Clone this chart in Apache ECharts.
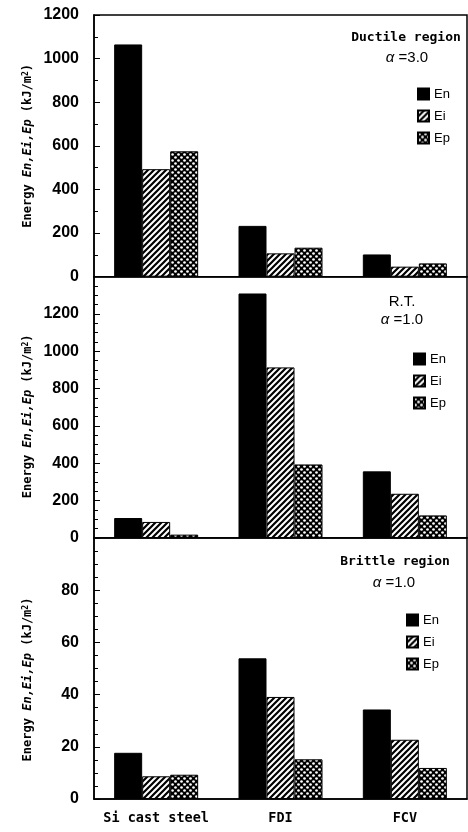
<!DOCTYPE html>
<html><head><meta charset="utf-8">
<script src="https://cdn.jsdelivr.net/npm/echarts@6/dist/echarts.min.js"></script>
<style>html,body{margin:0;padding:0;background:#fff}#c{width:468px;height:832px}</style>
</head><body><div id="c"></div>
<script>
const categories = ['Si cast steel', 'FDI', 'FCV'];
const seriesNames = ['En', 'Ei', 'Ep'];
// Ductile region, alpha = 3.0 (kJ/m2)
const ductileEn = [1065, 233, 102];
const ductileEi = [493, 107, 46];
const ductileEp = [575, 133, 61];
// R.T., alpha = 1.0
const rtEn = [107, 1310, 357];
const rtEi = [86, 914, 237];
const rtEp = [18, 394, 121];
// Brittle region, alpha = 1.0
const brittleEn = [17.7, 53.9, 34.3];
const brittleEi = [8.7, 39.1, 22.7];
const brittleEp = [9.3, 15.2, 11.9];
// y axis [min, max, interval]
const ductileTicks = [0, 1200, 200];
const rtTicks = [0, 1400, 200];
const brittleTicks = [0, 100, 20];

function hatch() {
  const N = 6, c = document.createElement('canvas'); c.width = c.height = N;
  const g = c.getContext('2d');
  g.fillStyle = '#fff'; g.fillRect(0, 0, N, N);
  g.strokeStyle = '#000'; g.lineWidth = 2.2; g.beginPath();
  for (let k = -1; k <= 1; k++) { g.moveTo(-1, N + k * N + 1); g.lineTo(N + 1, k * N - 1); }
  g.stroke();
  return c;
}
function stipple() {
  const N = 6, c = document.createElement('canvas'); c.width = c.height = N;
  const g = c.getContext('2d');
  g.fillStyle = '#000'; g.fillRect(0, 0, N, N);
  g.fillStyle = '#fff';
  [[1.5, 1.5], [4.5, 4.5]].forEach(p => { g.beginPath(); g.arc(p[0], p[1], 1.35, 0, Math.PI * 2); g.fill(); });
  return c;
}
const fills = ['#000', { image: hatch(), repeat: 'repeat' }, { image: stipple(), repeat: 'repeat' }];

const MONO = '"DejaVu Sans Mono", "Liberation Mono", monospace';
const SANS = '"Liberation Sans", Arial, sans-serif';
const panels = [
  { data: [ductileEn, ductileEi, ductileEp], ticks: ductileTicks, minor: 2, top: 15, height: 261.7, showMax: true, namePad: [0, 0, 0, 0], legend: [417, 87.5] },
  { data: [rtEn, rtEi, rtEp], ticks: rtTicks, minor: 4, top: 276.7, height: 261.3, showMax: false, namePad: [0, 18, 0, 0], legend: [413, 352.5] },
  { data: [brittleEn, brittleEi, brittleEp], ticks: brittleTicks, minor: 4, top: 538, height: 261, showMax: false, namePad: [0, 22, 0, 0], legend: [406, 613.5] }
];

const grid = [], xAxis = [], yAxis = [], series = [], legend = [];
panels.forEach((p, i) => {
  grid.push({ left: 94, right: 1, top: p.top, height: p.height, show: true, borderColor: '#000', borderWidth: 1.5, backgroundColor: '#fff' });
  xAxis.push({
    type: 'category', gridIndex: i, data: categories,
    axisLine: { lineStyle: { color: '#000', width: 1.5 } },
    axisTick: { inside: true, length: 4, lineStyle: { color: '#000' } },
    axisLabel: { show: i === 2, interval: 0, color: '#000', fontFamily: MONO, fontWeight: 'bold', fontSize: 13.5, margin: 12 }
  });
  yAxis.push({
    type: 'value', gridIndex: i, min: p.ticks[0], max: p.ticks[1], interval: p.ticks[2],
    name: 'Energy {i|En,Ei,Ep} (kJ/m{s|2})', nameLocation: 'middle', nameGap: 60, nameMoveOverlap: false,
    nameTextStyle: { color: '#000', fontFamily: MONO, fontWeight: 'bold', fontSize: 12, padding: p.namePad,
      rich: { i: { fontStyle: 'italic', fontFamily: MONO, fontWeight: 'bold', fontSize: 12 }, s: { fontSize: 8, fontFamily: MONO, fontWeight: 'bold', verticalAlign: 'top' } } },
    splitLine: { show: false },
    axisLine: { show: true, lineStyle: { color: '#000', width: 1.5 } },
    axisTick: { show: true, inside: true, length: 6, lineStyle: { color: '#000' } },
    minorTick: { show: true, splitNumber: p.minor, length: 4, lineStyle: { color: '#000' } },
    axisLabel: { color: '#000', fontFamily: SANS, fontWeight: 'bold', fontSize: 16, margin: 15, showMaxLabel: p.showMax,
      formatter: v => String(v) }
  });
  p.data.forEach((d, k) => {
    series.push({
      type: 'bar', name: seriesNames[k], xAxisIndex: i, yAxisIndex: i, data: d,
      barWidth: 28, barGap: '0%', animation: false,
      itemStyle: { color: fills[k], borderColor: '#000', borderWidth: 1 }
    });
  });
  legend.push({
    data: seriesNames, orient: 'vertical', left: p.legend[0], top: p.legend[1], padding: 0,
    itemWidth: 11, itemHeight: 11, itemGap: 9, icon: 'rect',
    textStyle: { color: '#000', fontFamily: SANS, fontSize: 13 }, selectedMode: false
  });
});

function label(x, y, text, font, rich) {
  return { type: 'text', x: x, y: y, z: 100,
    style: Object.assign({ text: text, fill: '#000', align: 'center', verticalAlign: 'middle', textAlign: 'center', textVerticalAlign: 'middle', rich: rich || {} }, font) };
}
const titleFont = { fontFamily: MONO, fontWeight: 'bold', fontSize: 13 };
const alphaFont = { fontFamily: SANS, fontSize: 15 };
const alphaRich = { a: { fontStyle: 'italic', fontFamily: SANS, fontSize: 15 } };
const graphic = [
  label(406, 38, 'Ductile region', titleFont),
  label(407, 58, '{a|α} =3.0', alphaFont, alphaRich),
  label(402, 302, 'R.T.', alphaFont),
  label(402, 320, '{a|α} =1.0', alphaFont, alphaRich),
  label(395, 562, 'Brittle region', titleFont),
  label(394, 583, '{a|α} =1.0', alphaFont, alphaRich)
];

const chart = echarts.init(document.getElementById('c'), null, { renderer: 'canvas' });
chart.setOption({ backgroundColor: '#fff', animation: false, grid, xAxis, yAxis, series, legend, graphic });
</script></body></html>
